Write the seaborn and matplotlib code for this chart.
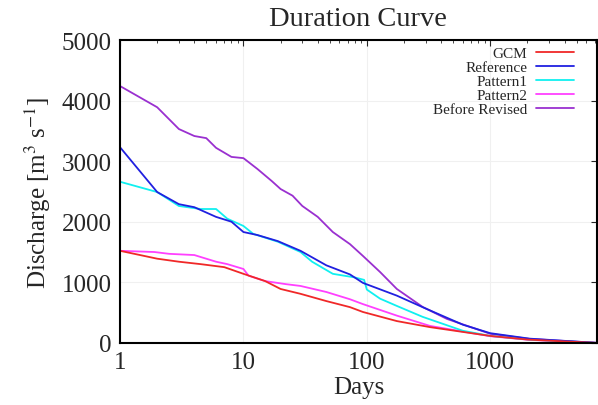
import numpy as np
import pandas as pd
import matplotlib
matplotlib.use("Agg")
import matplotlib.pyplot as plt
import seaborn as sns

# --- data (days exceeded vs discharge) ---
gcm_days = [1, 2, 3, 4.5, 7, 10, 15, 20, 29, 47, 73, 93, 175, 325, 1000, 2000, 3900, 7300]
gcm_q = [1520, 1390, 1340, 1300, 1250, 1140, 1020, 890, 810, 690, 590, 510, 360, 260, 115, 55, 25, 0]

ref_days = [1, 2, 3, 4, 6, 8, 10, 13, 19, 29, 47, 73, 93, 175, 290, 600, 1000, 2080, 7300]
ref_q = [3230, 2490, 2290, 2240, 2080, 2000, 1830, 1780, 1680, 1520, 1280, 1130, 990, 780, 580, 300, 160, 70, 0]

p1_days = [1, 2, 3, 4.5, 6, 7.4, 10, 12, 19, 29, 36, 53, 80, 95, 100, 128, 175, 283, 600, 1000, 2080, 7300]
p1_q = [2660, 2490, 2260, 2210, 2210, 2050, 1930, 1800, 1670, 1500, 1340, 1140, 1080, 1040, 880, 730, 610, 430, 200, 115, 55, 0]

p2_days = [1, 1.9, 2.5, 4, 6, 7.4, 10, 11, 15, 22, 29, 47, 73, 93, 175, 325, 1000, 2080, 7300]
p2_q = [1520, 1500, 1470, 1450, 1340, 1300, 1220, 1110, 1020, 970, 940, 840, 720, 640, 450, 280, 110, 50, 0]

br_days = [1, 2, 3, 4, 5, 6, 8, 10, 13, 17, 20, 25, 30, 40, 53, 73, 93, 128, 175, 283, 445, 1000, 2080, 7300]
br_q = [4240, 3890, 3530, 3415, 3380, 3220, 3070, 3050, 2870, 2670, 2540, 2430, 2260, 2080, 1830, 1630, 1435, 1170, 890, 594, 396, 150, 66, 0]

labels = ["GCM", "Reference", "Pattern1", "Pattern2", "Before Revised"]
colors = ["#f02828", "#2020e0", "#10f0f0", "#ff40ff", "#9a30d0"]

series = [
    (gcm_days, gcm_q),
    (ref_days, ref_q),
    (p1_days, p1_q),
    (p2_days, p2_q),
    (br_days, br_q),
]
frames = []
for name, (d, q) in zip(labels, series):
    frames.append(pd.DataFrame({"days": d, "q": q, "run": name}))
df = pd.concat(frames, ignore_index=True)

sns.set_style("white")
plt.rcParams["font.family"] = ["Liberation Serif", "DejaVu Serif"]
plt.rcParams["mathtext.fontset"] = "stix"

fig, ax = plt.subplots(figsize=(5.98, 4.06), dpi=100)
fig.subplots_adjust(left=0.2007, right=0.998, top=0.899, bottom=0.153)

# draw in reverse so GCM ends up on top, legend keeps the original order
for name, col in list(zip(labels, colors))[::-1]:
    sns.lineplot(data=df[df["run"] == name], x="days", y="q", color=col,
                 linewidth=1.3, label=name, ax=ax, sort=False, estimator=None)

ax.set_xscale("log")
ax.set_xlim(1, 7300)
ax.set_ylim(0, 5000)
ax.set_yticks([0, 1000, 2000, 3000, 4000, 5000])
ax.set_xticks([1, 10, 100, 1000])
ax.set_xticklabels(["1", "10", "100", "1000"])
ax.grid(True, which="major", color="#f0f0f0", linewidth=0.8)

for s in ax.spines.values():
    s.set_color("black")
    s.set_linewidth(1.5)
ax.tick_params(which="both", direction="in", top=True, right=True, labelsize=18, pad=6)
ax.tick_params(which="major", length=4)
ax.tick_params(which="minor", length=2)

ax.set_title("Duration Curve", fontsize=20.5, pad=11)
ax.set_xlabel("Days", fontsize=18, labelpad=2)
ax.set_ylabel(r"Discharge [m$^{3}$ s$^{-1}$]", fontsize=18, labelpad=6)

handles, labs = ax.get_legend_handles_labels()
order = [labs.index(n) for n in labels]
ax.legend([handles[i] for i in order], [labs[i] for i in order],
          loc="upper right", bbox_to_anchor=(0.965, 0.998), frameon=False,
          markerfirst=False, fontsize=11, handlelength=2.5, handletextpad=0.55,
          labelspacing=0.02, borderaxespad=0.0)

fig.savefig("out.png", dpi=100)
